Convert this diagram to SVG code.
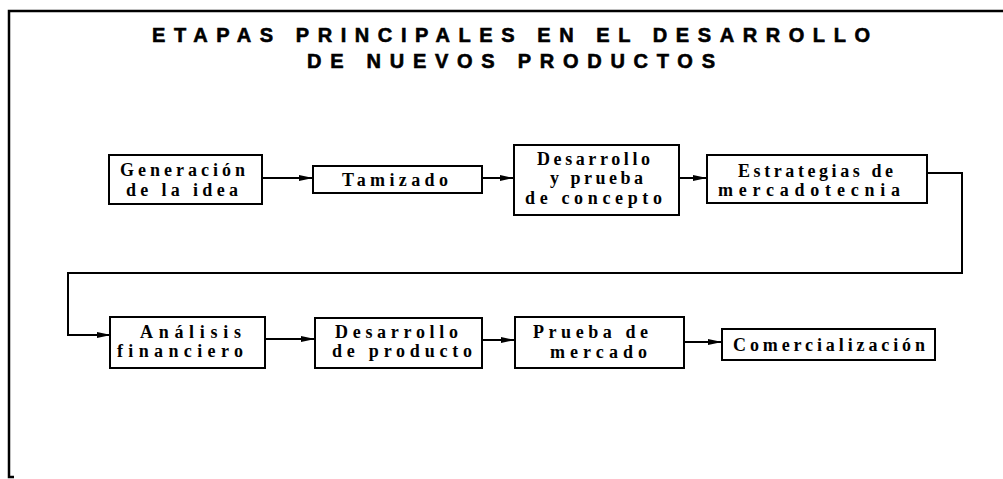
<svg xmlns="http://www.w3.org/2000/svg" width="1003" height="479" viewBox="0 0 1003 479">
<style>
.box{fill:#fff;stroke:#000;stroke-width:2}
.t{font-family:"Liberation Serif","Times New Roman",serif;font-size:18px;font-weight:bold;fill:#000}
.ti{font-family:"Liberation Sans",Arial,sans-serif;font-size:20px;font-weight:bold;fill:#000;stroke:#000;stroke-width:0.6}
.c{fill:none;stroke:#000;stroke-width:2}
</style>
<defs>
<marker id="ah" markerWidth="14" markerHeight="8" refX="13" refY="4" orient="auto" markerUnits="userSpaceOnUse">
<path d="M0,1 L14,4 L0,7 Z" fill="#000"/>
</marker>
</defs>
<rect width="1003" height="479" fill="#fff"/>
<path d="M1003,11 H9 V477 H14" fill="none" stroke="#000" stroke-width="2.5"/>
<g id="title">
<text class="ti" x="152" y="42" textLength="718" lengthAdjust="spacing">ETAPAS PRINCIPALES EN EL DESARROLLO</text>
<text class="ti" x="307" y="68" textLength="408" lengthAdjust="spacing">DE NUEVOS PRODUCTOS</text>
</g>
<g id="connectors">
<line class="c" x1="262" y1="178" x2="312" y2="178" marker-end="url(#ah)"/>
<line class="c" x1="482" y1="178" x2="513" y2="178" marker-end="url(#ah)"/>
<line class="c" x1="679" y1="178" x2="706" y2="178" marker-end="url(#ah)"/>
<path class="c" d="M927,173 H962 V273 H68 V335 H110" marker-end="url(#ah)"/>
<line class="c" x1="265" y1="339" x2="314" y2="339" marker-end="url(#ah)"/>
<line class="c" x1="482" y1="340" x2="514" y2="340" marker-end="url(#ah)"/>
<line class="c" x1="684" y1="342" x2="721" y2="342" marker-end="url(#ah)"/>
</g>
<g id="n1"><rect class="box" x="109" y="155" width="153" height="49"/>
<text class="t" x="120" y="176" textLength="125" lengthAdjust="spacing">Generación</text>
<text class="t" x="126" y="196" textLength="112" lengthAdjust="spacing">de la idea</text></g>
<g id="n2"><rect class="box" x="313" y="166" width="169" height="27"/>
<text class="t" x="342" y="186" textLength="106" lengthAdjust="spacing">Tamizado</text></g>
<g id="n3"><rect class="box" x="514" y="145" width="165" height="70"/>
<text class="t" x="537" y="165" textLength="113" lengthAdjust="spacing">Desarrollo</text>
<text class="t" x="550" y="184" textLength="93" lengthAdjust="spacing">y prueba</text>
<text class="t" x="525" y="204" textLength="137" lengthAdjust="spacing">de concepto</text></g>
<g id="n4"><rect class="box" x="707" y="155" width="220" height="48"/>
<text class="t" x="738" y="177" textLength="155" lengthAdjust="spacing">Estrategias de</text>
<text class="t" x="718" y="196" textLength="182" lengthAdjust="spacing">mercadotecnia</text></g>
<g id="n5"><rect class="box" x="110" y="317" width="155" height="51"/>
<text class="t" x="140" y="338" textLength="101" lengthAdjust="spacing">Análisis</text>
<text class="t" x="117" y="357" textLength="126" lengthAdjust="spacing">financiero</text></g>
<g id="n6"><rect class="box" x="315" y="318" width="167" height="50"/>
<text class="t" x="335" y="338" textLength="123" lengthAdjust="spacing">Desarrollo</text>
<text class="t" x="332" y="357" textLength="140" lengthAdjust="spacing">de producto</text></g>
<g id="n7"><rect class="box" x="515" y="317" width="169" height="51"/>
<text class="t" x="533" y="338" textLength="115" lengthAdjust="spacing">Prueba de</text>
<text class="t" x="550" y="358" textLength="97" lengthAdjust="spacing">mercado</text></g>
<g id="n8"><rect class="box" x="722" y="329" width="213" height="31"/>
<text class="t" x="733" y="351" textLength="192" lengthAdjust="spacing">Comercialización</text></g>
</svg>
